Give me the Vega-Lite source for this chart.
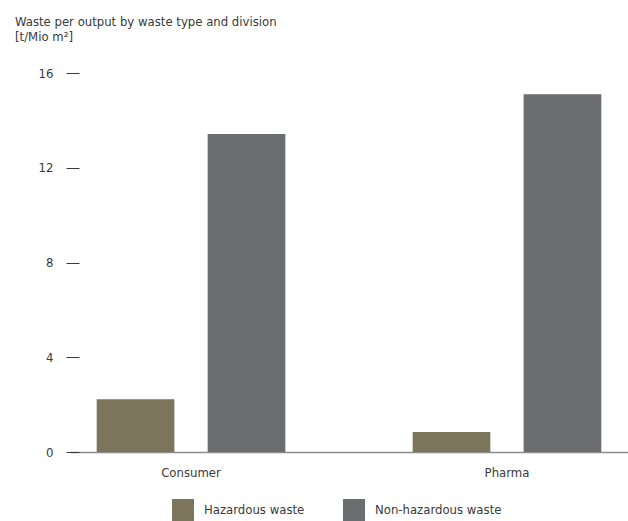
{
  "$schema": "https://vega.github.io/schema/vega-lite/v6.json",
  "width": 558,
  "height": 379,
  "autosize": {"type": "none"},
  "padding": {"left": 70, "top": 73, "right": 0, "bottom": 69},
  "background": "white",
  "config": {
    "font": "DejaVu Sans Condensed, Roboto, sans-serif",
    "view": {"stroke": null},
    "axis": {"labelFont": "DejaVu Sans Condensed, Roboto, sans-serif", "labelColor": "#3a3a3a", "labelFontSize": 13, "grid": false, "title": null}
  },
  "title": {
    "text": ["Waste per output by waste type and division", "[t/Mio m²]"],
    "anchor": "start",
    "frame": "group",
    "dx": -55,
    "fontSize": 13,
    "fontWeight": "normal",
    "font": "DejaVu Sans Condensed, Roboto, sans-serif",
    "color": "#3a3a3a",
    "lineHeight": 15,
    "offset": 23
  },
  "data": {
    "values": [
      {"division": "Consumer", "type": "Hazardous waste", "value": 2.23},
      {"division": "Consumer", "type": "Non-hazardous waste", "value": 13.42},
      {"division": "Pharma", "type": "Hazardous waste", "value": 0.84},
      {"division": "Pharma", "type": "Non-hazardous waste", "value": 15.1}
    ]
  },
  "mark": {"type": "bar"},
  "encoding": {
    "x": {
      "field": "division",
      "type": "nominal",
      "sort": ["Consumer", "Pharma"],
      "scale": {"paddingInner": 0.403, "paddingOuter": 0.0845},
      "axis": {"labelAngle": 0, "ticks": false, "domain": true, "domainColor": "#8c8c8c", "domainWidth": 1.5, "labelPadding": 14}
    },
    "xOffset": {
      "field": "type",
      "type": "nominal",
      "scale": {"paddingInner": 0.3, "paddingOuter": 0}
    },
    "y": {
      "field": "value",
      "type": "quantitative",
      "scale": {"domain": [0, 16], "nice": false},
      "axis": {"values": [0, 4, 8, 12, 16], "offset": 4, "domain": false, "tickSize": -13, "tickColor": "#3a3a3a", "tickWidth": 1, "labelPadding": 26}
    },
    "color": {
      "field": "type",
      "type": "nominal",
      "scale": {"domain": ["Hazardous waste", "Non-hazardous waste"], "range": ["#7d745c", "#6c6d6f"]},
      "legend": {
        "orient": "none",
        "legendX": 102,
        "legendY": 426,
        "direction": "horizontal",
        "title": null,
        "symbolType": "square",
        "symbolSize": 484,
        "symbolStrokeWidth": 0,
        "symbolOpacity": 1,
        "labelFontSize": 13,
        "labelColor": "#3a3a3a",
        "labelFont": "DejaVu Sans Condensed, Roboto, sans-serif",
        "labelOffset": 10,
        "columnPadding": 38
      }
    }
  }
}
